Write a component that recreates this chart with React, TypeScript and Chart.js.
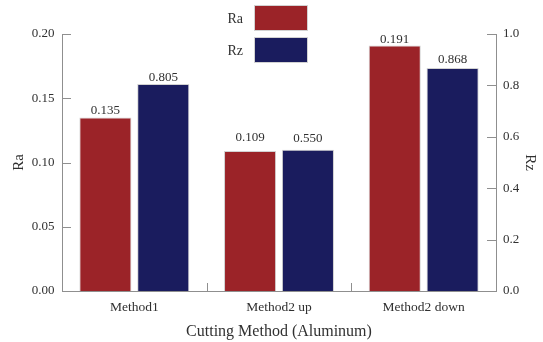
import React, { useEffect, useRef } from 'react';
import { Chart, registerables } from 'chart.js';

Chart.register(...registerables);

// ---- data ----
const categories = ['Method1', 'Method2 up', 'Method2 down'];
const raValues = [0.135, 0.109, 0.191];
const rzValues = [0.805, 0.55, 0.868];
const raValueLabels = ['0.135', '0.109', '0.191'];
const rzValueLabels = ['0.805', '0.550', '0.868'];
const raAxisMax = 0.2;
const raAxisStep = 0.05;
const rzAxisMax = 1.0;
const rzAxisStep = 0.2;
const xTitle = 'Cutting Method (Aluminum)';
const raTitle = 'Ra';
const rzTitle = 'Rz';

// ---- style ----
const SERIF = "'Liberation Serif', 'Times New Roman', 'DejaVu Serif', serif";
const RA_COLOR = '#9b2328';
const RZ_COLOR = '#1a1c5e';
const AXIS_COLOR = '#8f8f8f';
const TEXT_COLOR = '#303030';
const BAR_BORDER = '#d2d2d2';
const Y_TICK_LEN = 9;
const X_TICK_LEN = 8;
// gap (px) between each bar's top and its value label baseline: [category][dataset]
const labelLift = [
  [3.5, 3.5],
  [9.5, 8],
  [2.5, 4.5],
];

const valueLabelPlugin = {
  id: 'valueLabels',
  afterDatasetsDraw(chart: any) {
    const ctx = chart.ctx;
    ctx.save();
    ctx.font = `13px ${SERIF}`;
    ctx.fillStyle = TEXT_COLOR;
    ctx.textAlign = 'center';
    ctx.textBaseline = 'alphabetic';
    chart.data.datasets.forEach((ds: any, di: number) => {
      const meta = chart.getDatasetMeta(di);
      meta.data.forEach((el: any, i: number) => {
        ctx.fillText(ds.valueLabels[i], el.x, el.y - labelLift[i][di]);
      });
    });
    ctx.restore();
  },
};

// inward-pointing tick marks
const inwardTicksPlugin = {
  id: 'inwardTicks',
  afterDraw(chart: any) {
    const ctx = chart.ctx;
    const { left, right, bottom } = chart.chartArea;
    ctx.save();
    ctx.strokeStyle = AXIS_COLOR;
    ctx.lineWidth = 1;
    ctx.beginPath();
    const ys = chart.scales.y;
    ys.ticks.forEach((_t: any, i: number) => {
      const py = Math.round(ys.getPixelForTick(i)) + 0.5;
      ctx.moveTo(left, py);
      ctx.lineTo(left + Y_TICK_LEN, py);
    });
    const y1 = chart.scales.y1;
    y1.ticks.forEach((_t: any, i: number) => {
      const py = Math.round(y1.getPixelForTick(i)) + 0.5;
      ctx.moveTo(right, py);
      ctx.lineTo(right - Y_TICK_LEN, py);
    });
    const xs = chart.scales.x;
    const n = xs.ticks.length;
    for (let i = 1; i < n; i++) {
      const px = Math.round((xs.getPixelForTick(i - 1) + xs.getPixelForTick(i)) / 2) + 0.5;
      ctx.moveTo(px, bottom);
      ctx.lineTo(px, bottom - X_TICK_LEN);
    }
    ctx.stroke();
    ctx.restore();
  },
};

const boxLegendPlugin = {
  id: 'boxLegend',
  afterDraw(chart: any) {
    const ctx = chart.ctx;
    const boxX = 254;
    const boxW = 54;
    const boxH = 26;
    const top = 5;
    const step = 32;
    ctx.save();
    chart.data.datasets.forEach((ds: any, i: number) => {
      const y = top + i * step;
      ctx.fillStyle = ds.backgroundColor;
      ctx.fillRect(boxX, y, boxW, boxH);
      ctx.strokeStyle = BAR_BORDER;
      ctx.lineWidth = 1;
      ctx.strokeRect(boxX + 0.5, y + 0.5, boxW - 1, boxH - 1);
      ctx.fillStyle = TEXT_COLOR;
      ctx.font = `14px ${SERIF}`;
      ctx.textAlign = 'right';
      ctx.textBaseline = 'middle';
      ctx.fillText(ds.label, boxX - 11, y + boxH / 2 + 1);
    });
    ctx.restore();
  },
};

export default function App() {
  const canvasRef = useRef<HTMLCanvasElement | null>(null);

  useEffect(() => {
    if (!canvasRef.current) return;
    const chart = new Chart(canvasRef.current, {
      type: 'bar',
      data: {
        labels: categories,
        datasets: [
          {
            label: 'Ra',
            data: raValues,
            valueLabels: raValueLabels,
            yAxisID: 'y',
            backgroundColor: RA_COLOR,
            borderColor: BAR_BORDER,
            borderWidth: 1,
          } as any,
          {
            label: 'Rz',
            data: rzValues,
            valueLabels: rzValueLabels,
            yAxisID: 'y1',
            backgroundColor: RZ_COLOR,
            borderColor: BAR_BORDER,
            borderWidth: 1,
          } as any,
        ],
      },
      options: {
        responsive: false,
        animation: false,
        layout: { padding: { top: 34, left: 0, right: 0, bottom: 0 } },
        plugins: {
          legend: { display: false },
          tooltip: { enabled: false },
        },
        scales: {
          x: {
            position: 'bottom',
            grid: { display: false, drawTicks: false },
            border: { display: true, color: AXIS_COLOR, width: 1 },
            ticks: {
              color: TEXT_COLOR,
              font: { family: SERIF, size: 13.5 },
              padding: 8,
              maxRotation: 0,
            },
            title: {
              display: true,
              text: xTitle,
              color: TEXT_COLOR,
              font: { family: SERIF, size: 16 },
              padding: { top: 0, bottom: 1 },
            },
            afterFit(scale: any) {
              scale.height = 51;
            },
          },
          y: {
            position: 'left',
            min: 0,
            max: raAxisMax,
            grid: { display: false, drawTicks: false },
            border: { display: true, color: AXIS_COLOR, width: 1 },
            ticks: {
              stepSize: raAxisStep,
              color: TEXT_COLOR,
              font: { family: SERIF, size: 13 },
              padding: 7.5,
              callback: (v: any) => Number(v).toFixed(2),
            },
            title: {
              display: true,
              text: raTitle,
              color: TEXT_COLOR,
              font: { family: SERIF, size: 15 },
              padding: { top: 10, bottom: 0 },
            },
            afterFit(scale: any) {
              scale.width = 62;
            },
          },
          y1: {
            position: 'right',
            min: 0,
            max: rzAxisMax,
            grid: { display: false, drawTicks: false },
            border: { display: true, color: AXIS_COLOR, width: 1 },
            ticks: {
              stepSize: rzAxisStep,
              color: TEXT_COLOR,
              font: { family: SERIF, size: 13 },
              padding: 7,
              callback: (v: any) => Number(v).toFixed(1),
            },
            title: {
              display: true,
              text: rzTitle,
              color: TEXT_COLOR,
              font: { family: SERIF, size: 15 },
              padding: { top: 4, bottom: 0 },
            },
            afterFit(scale: any) {
              scale.width = 47;
            },
          },
        },
      } as any,
      plugins: [valueLabelPlugin, inwardTicksPlugin, boxLegendPlugin],
    });
    return () => chart.destroy();
  }, []);

  return (
    <div style={{ position: 'fixed', left: 0, top: 0, width: 543, height: 342, background: '#ffffff' }}>
      <canvas ref={canvasRef} width={543} height={342} style={{ display: 'block', width: 543, height: 342 }} />
    </div>
  );
}
